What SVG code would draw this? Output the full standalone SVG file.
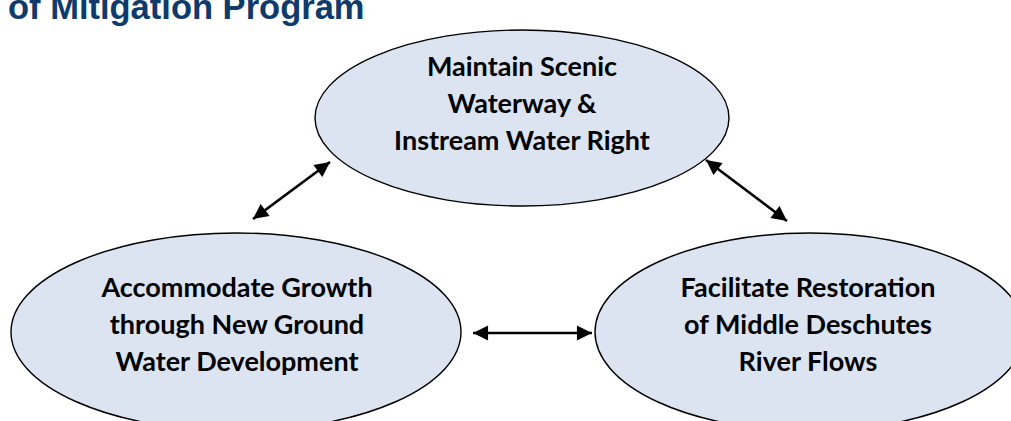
<svg xmlns="http://www.w3.org/2000/svg" width="1011" height="421" viewBox="0 0 1011 421">
<style>
.title{font-family:"Liberation Sans",Arial,sans-serif;font-weight:bold;font-size:34.5px;fill:#0e3a6c}
.node ellipse{fill:#dbe4f0;stroke:#000;stroke-width:1.4}
.node text{font-family:Lato,"Open Sans",sans-serif;font-weight:bold;font-size:27px;fill:#000;text-anchor:middle}
.conn line{stroke:#000;stroke-width:2.6}
</style>
<defs>
<marker id="ah" viewBox="0 0 10 10" refX="10" refY="5" markerWidth="6.2" markerHeight="5.8" markerUnits="strokeWidth" orient="auto-start-reverse">
<path d="M0,0 L10,5 L0,10 z" fill="#000"/>
</marker>
</defs>
<text class="title" x="8" y="19">of Mitigation Program</text>
<g id="node-top" class="node">
<ellipse cx="522" cy="118" rx="207" ry="88"/>
<text x="522" y="76">Maintain Scenic</text>
<text x="522" y="113">Waterway &amp;</text>
<text x="522" y="150">Instream Water Right</text>
</g>
<g id="node-left" class="node">
<ellipse cx="236" cy="332" rx="225" ry="99"/>
<text x="237" y="297">Accommodate Growth</text>
<text x="237" y="334">through New Ground</text>
<text x="237" y="371">Water Development</text>
</g>
<g id="node-right" class="node">
<ellipse cx="810" cy="332" rx="215" ry="99"/>
<text x="808" y="297">Facilitate Restoration</text>
<text x="808" y="334">of Middle Deschutes</text>
<text x="808" y="371">River Flows</text>
</g>
<g id="connectors" class="conn">
<line x1="253" y1="219" x2="330" y2="162" marker-start="url(#ah)" marker-end="url(#ah)"/>
<line x1="706" y1="160" x2="787" y2="221" marker-start="url(#ah)" marker-end="url(#ah)"/>
<line x1="473" y1="333" x2="592" y2="333" marker-start="url(#ah)" marker-end="url(#ah)"/>
</g>
</svg>
